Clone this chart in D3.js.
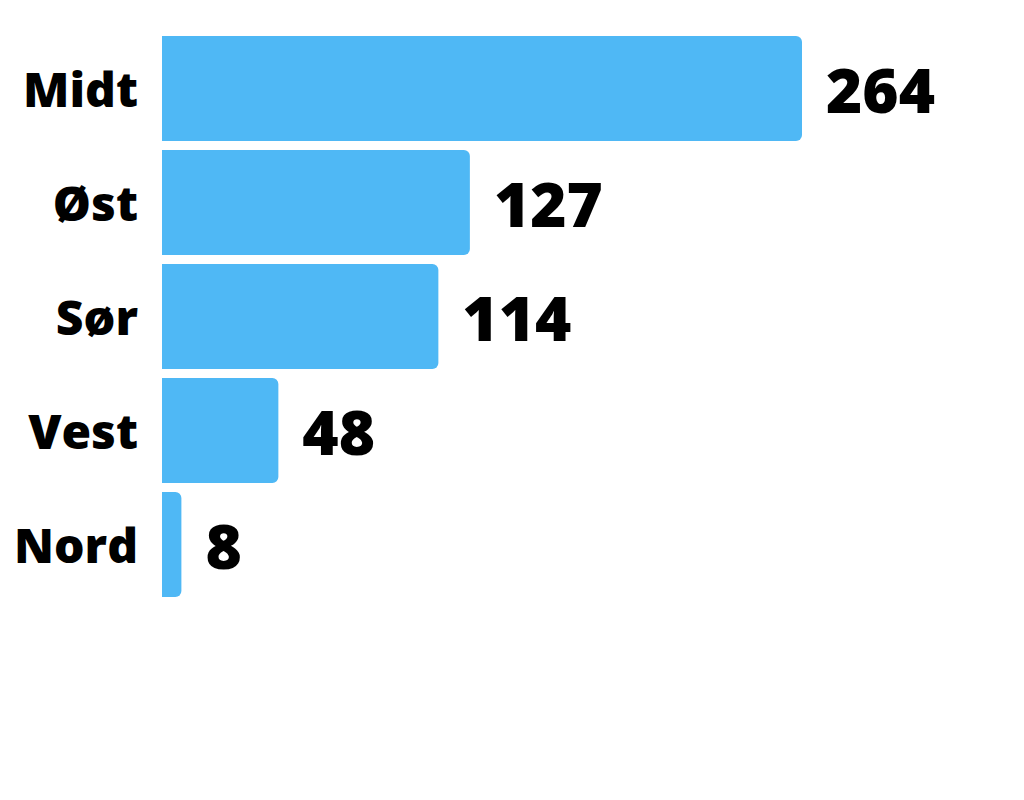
<!DOCTYPE html>
<html>
<head>
<meta charset="utf-8">
<script src="https://cdn.jsdelivr.net/npm/d3@7"></script>
<style>
  html, body { margin: 0; padding: 0; background: #ffffff; }
  svg { display: block; }
  text { font-family: "Open Sans", sans-serif; font-weight: 800; fill: #000; }
</style>
</head>
<body>
<svg id="chart" width="1024" height="800"></svg>
<script>
const categories = ["Midt", "Øst", "Sør", "Vest", "Nord"];
const values = [264, 127, 114, 48, 8];

const svg = d3.select("#chart");
const x = d3.scaleLinear().domain([0, 264]).range([162, 802]);
const y = d3.scaleBand().domain(categories).range([36, 597]).paddingInner(0.079).paddingOuter(0);

const data = categories.map((c, i) => ({ c, v: values[i] }));
const r = 6;

function barPath(d) {
  const x0 = x(0), x1 = x(d.v), y0 = y(d.c), h = y.bandwidth();
  const rr = Math.min(r, (x1 - x0) / 2, h / 2);
  return `M${x0},${y0}H${x1 - rr}A${rr},${rr} 0 0 1 ${x1},${y0 + rr}` +
         `V${y0 + h - rr}A${rr},${rr} 0 0 1 ${x1 - rr},${y0 + h}H${x0}Z`;
}

svg.selectAll("path.bar").data(data).join("path")
  .attr("class", "bar")
  .attr("d", barPath)
  .attr("fill", "#4fb8f5");

svg.selectAll("text.cat").data(data).join("text")
  .attr("class", "cat")
  .attr("x", 138)
  .attr("y", d => y(d.c) + y.bandwidth() / 2 + 2)
  .attr("dy", "0.35em")
  .attr("text-anchor", "end")
  .style("font-size", "48px")
  .text(d => d.c);

svg.selectAll("text.val").data(data).join("text")
  .attr("class", "val")
  .attr("x", d => x(d.v) + 24)
  .attr("y", d => y(d.c) + y.bandwidth() / 2 + 2)
  .attr("dy", "0.36em")
  .attr("text-anchor", "start")
  .style("font-size", "62px")
  .text(d => d.v);
</script>
</body>
</html>
